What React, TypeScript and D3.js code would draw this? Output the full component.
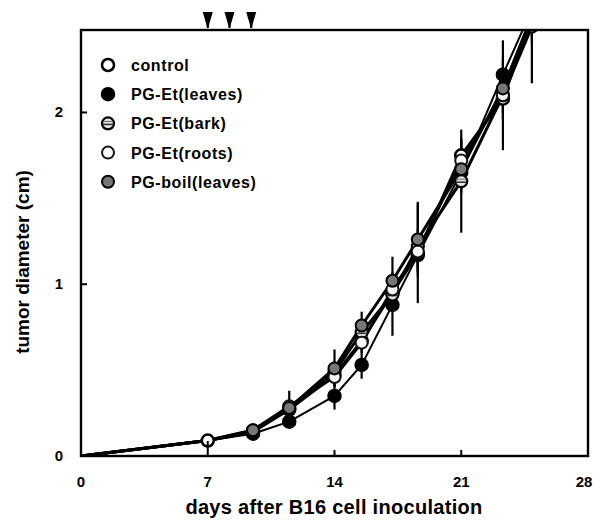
import React from "react";
import * as d3 from "d3";

const days = [0, 7, 9.5, 11.5, 14, 15.5, 17.2, 18.6, 21, 23.3, 24.9];
const controlVals = [0, 0.09, 0.14, 0.27, 0.47, 0.67, 0.95, 1.18, 1.75, 2.08, 2.55];
const controlErr = [0, 0, 0.02, 0.04, 0.06, 0.06, 0.08, 0.29, 0.1, 0.12, 0.1];
const leavesVals = [0, 0.09, 0.13, 0.2, 0.35, 0.53, 0.88, 1.17, 1.65, 2.22, 2.6];
const leavesErr = [0, 0, 0.02, 0.03, 0.08, 0.08, 0.18, 0.1, 0.12, 0.1, 0.1];
const barkVals = [0, 0.09, 0.14, 0.28, 0.49, 0.72, 0.94, 1.22, 1.6, 2.1, 2.5];
const barkErr = [0, 0, 0.02, 0.04, 0.06, 0.07, 0.1, 0.1, 0.3, 0.32, 0.1];
const rootsVals = [0, 0.09, 0.15, 0.29, 0.46, 0.66, 0.97, 1.19, 1.72, 2.1, 2.55];
const rootsErr = [0, 0, 0.02, 0.04, 0.05, 0.06, 0.1, 0.1, 0.12, 0.1, 0.38];
const boilVals = [0, 0.09, 0.15, 0.28, 0.51, 0.76, 1.02, 1.26, 1.67, 2.14, 2.56];
const boilErr = [0, 0, 0.02, 0.1, 0.11, 0.08, 0.14, 0.22, 0.12, 0.1, 0.1];

const seriesNames = ["control", "PG-Et(leaves)", "PG-Et(bark)", "PG-Et(roots)", "PG-boil(leaves)"];
const xTicks = [0, 7, 14, 21, 28];
const xTickLen = [0, 15, 6, 6, 0];
const yTicks = [0, 1, 2];
const arrowDays = [7, 8.2, 9.4];

const series = [
  { name: seriesNames[0], vals: controlVals, err: controlErr, kind: "control" },
  { name: seriesNames[1], vals: leavesVals, err: leavesErr, kind: "leaves" },
  { name: seriesNames[2], vals: barkVals, err: barkErr, kind: "bark" },
  { name: seriesNames[3], vals: rootsVals, err: rootsErr, kind: "roots" },
  { name: seriesNames[4], vals: boilVals, err: boilErr, kind: "boil" },
];

const L = 81, R = 588, T = 30, B = 456;

function Marker({ kind, cx, cy }: { kind: string; cx: number; cy: number }) {
  const r = 6;
  if (kind === "control")
    return <circle cx={cx} cy={cy} r={r} fill="#fff" stroke="#000" strokeWidth={2.6} />;
  if (kind === "leaves")
    return <circle cx={cx} cy={cy} r={r + 0.5} fill="#000" stroke="#000" strokeWidth={1.5} />;
  if (kind === "bark")
    return (
      <g>
        <circle cx={cx} cy={cy} r={r} fill="#e6e6e6" stroke="#000" strokeWidth={2.2} />
        <line x1={cx - r + 1} x2={cx + r - 1} y1={cy - 2} y2={cy - 2} stroke="#666" strokeWidth={1} />
        <line x1={cx - r + 1} x2={cx + r - 1} y1={cy + 1} y2={cy + 1} stroke="#333" strokeWidth={1.6} />
      </g>
    );
  if (kind === "roots")
    return <circle cx={cx} cy={cy} r={r} fill="#f7f7f7" stroke="#111" strokeWidth={2} />;
  return <circle cx={cx} cy={cy} r={r} fill="#777" stroke="#000" strokeWidth={2} />;
}

export default function App() {
  const x = d3.scaleLinear().domain([0, 28]).range([L, R]);
  const y = d3.scaleLinear().domain([0, 2.48]).range([B, T]);
  const line = d3
    .line<number>()
    .x((_, i) => x(days[i]))
    .y((v) => y(v));
  const font = "Liberation Sans, Arial, Helvetica, sans-serif";
  const drawOrder = [1, 0, 2, 3, 4];

  return (
    <svg width={594} height={521} style={{ position: "absolute", left: 0, top: 0, background: "#fff" }}>
      <defs>
        <clipPath id="plot">
          <rect x={L} y={T} width={R - L} height={B - T} />
        </clipPath>
      </defs>
      <rect width={594} height={521} fill="#fff" />
      <g clipPath="url(#plot)">
        {series.map((s) => (
          <g key={s.name + "err"}>
            {s.vals.map((v, i) =>
              s.err[i] > 0.03 ? (
                <line
                  key={i}
                  x1={x(days[i])}
                  x2={x(days[i])}
                  y1={y(v - s.err[i])}
                  y2={y(v + s.err[i])}
                  stroke="#000"
                  strokeWidth={2.2}
                />
              ) : null
            )}
          </g>
        ))}
        {series.map((s) => (
          <path
            key={s.name + "line"}
            d={line(s.vals) || ""}
            fill="none"
            stroke="#000"
            strokeWidth={s.kind === "leaves" ? 2 : 3}
          />
        ))}
        {drawOrder.map((k) => {
          const s = series[k];
          return (
            <g key={s.name + "pts"}>
              {s.vals.map((v, i) =>
                i === 0 || (i === 1 && s.kind !== "control") ? null : (
                  <Marker key={i} kind={s.kind} cx={x(days[i])} cy={y(v)} />
                )
              )}
            </g>
          );
        })}
      </g>
      {/* frame */}
      <rect x={L} y={T} width={R - L} height={B - T} fill="none" stroke="#000" strokeWidth={2.4} />
      {/* ticks */}
      {xTicks.map((t, i) =>
        xTickLen[i] > 0 ? (
          <line key={"xt" + t} x1={x(t)} x2={x(t)} y1={B} y2={B - xTickLen[i]} stroke="#000" strokeWidth={2} />
        ) : null
      )}
      {yTicks.slice(1).map((t) => (
        <line key={"yt" + t} x1={L} x2={L + 6} y1={y(t)} y2={y(t)} stroke="#000" strokeWidth={2} />
      ))}
      {xTicks.map((t) => (
        <text
          key={"xl" + t}
          x={x(t) - (t === 28 ? 4 : 0)}
          y={487}
          textAnchor="middle"
          fontFamily={font}
          fontWeight="bold"
          fontSize={15}
        >
          {t}
        </text>
      ))}
      {yTicks.map((t) => (
        <text
          key={"yl" + t}
          x={59}
          y={y(t) + 5}
          textAnchor="middle"
          fontFamily={font}
          fontWeight="bold"
          fontSize={15}
        >
          {t}
        </text>
      ))}
      {/* arrows */}
      {arrowDays.map((d) => (
        <path
          key={"ar" + d}
          d={`M${x(d) - 5},12 L${x(d) + 5},12 L${x(d) + 1.5},24 L${x(d) + 1},28 L${x(d) - 1},28 L${x(d) - 1.5},24 Z`}
          fill="#000"
        />
      ))}
      {/* legend */}
      {series.map((s, i) => (
        <g key={s.name + "leg"}>
          <Marker kind={s.kind} cx={108} cy={65 + i * 29.2} />
          <text
            x={131}
            y={65 + i * 29.2 + 6}
            fontFamily={font}
            fontWeight="bold"
            fontSize={16}
            letterSpacing={0.6}
          >
            {s.name}
          </text>
        </g>
      ))}
      {/* axis titles */}
      <text
        x={334}
        y={514}
        textAnchor="middle"
        fontFamily={font}
        fontWeight="bold"
        fontSize={20}
        letterSpacing={0.3}
      >
        days after B16 cell inoculation
      </text>
      <text
        transform={`translate(29,262) rotate(-90)`}
        textAnchor="middle"
        fontFamily={font}
        fontWeight="bold"
        fontSize={19}
      >
        tumor diameter (cm)
      </text>
    </svg>
  );
}
